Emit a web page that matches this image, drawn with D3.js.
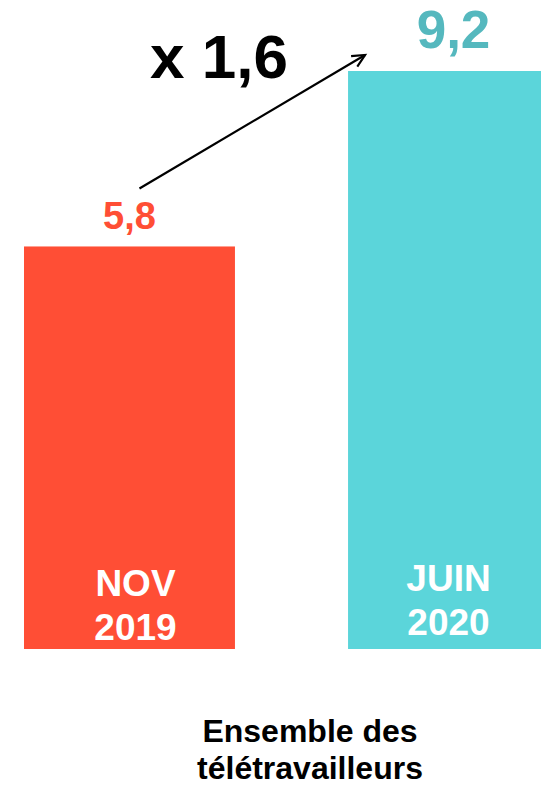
<!DOCTYPE html>
<html>
<head>
<meta charset="utf-8">
<script src="https://cdn.jsdelivr.net/npm/d3@7"></script>
<style>
  html, body { margin: 0; padding: 0; background: #fff; }
  svg { display: block; }
  text { font-family: "Liberation Sans", Arial, sans-serif; font-weight: bold; }
</style>
</head>
<body>
<svg id="chart" width="541" height="786"></svg>
<script>
const categories = ["NOV 2019", "JUIN 2020"];
const categoryLines = [["NOV", "2019"], ["JUIN", "2020"]];
const values = [5.8, 9.2];
const valueLabels = ["5,8", "9,2"];
const barColors = ["#FF4E35", "#5BD5DA"];
const labelColors = ["#FF4E35", "#55B8BE"];
const ratioLabel = "x 1,6";
const groupLabel = ["Ensemble des", "télétravailleurs"];
const yMin = -2;

const svg = d3.select("#chart");

const x = d3.scaleBand()
  .domain(categories)
  .range([24, 559])
  .paddingInner(0.349)
  .paddingOuter(0);

const y = d3.scaleLinear()
  .domain([yMin, d3.max(values)])
  .range([649, 71]);

const data = categories.map((c, i) => ({ c, v: values[i], i }));

// bars
svg.selectAll("rect.bar")
  .data(data)
  .join("rect")
  .attr("class", "bar")
  .attr("x", d => x(d.c))
  .attr("y", d => y(d.v))
  .attr("width", x.bandwidth())
  .attr("height", d => y(yMin) - y(d.v))
  .attr("fill", d => barColors[d.i]);

// value labels
const valueFont = [38, 53];
const valueDx = [0, 0];
svg.selectAll("text.val")
  .data(data)
  .join("text")
  .attr("class", "val")
  .attr("x", d => x(d.c) + x.bandwidth() / 2 + valueDx[d.i])
  .attr("y", d => y(d.v) - (d.i === 0 ? 17 : 23))
  .attr("text-anchor", "middle")
  .attr("font-size", d => valueFont[d.i])
  .attr("fill", d => labelColors[d.i])
  .text(d => valueLabels[d.i]);

// category labels inside bars
const catDx = [6, -5];
const catBase = [596, 591];
data.forEach(d => {
  const t = svg.append("text")
    .attr("text-anchor", "middle")
    .attr("font-size", 37)
    .attr("fill", "#fff");
  categoryLines[d.i].forEach((line, k) => {
    t.append("tspan")
      .attr("x", x(d.c) + x.bandwidth() / 2 + catDx[d.i])
      .attr("y", catBase[d.i] + k * 44)
      .text(line);
  });
});

// arrow annotation
const x0 = x(categories[0]) + x.bandwidth() / 2 + 10;
const y0 = y(values[0]) - 58;
const x1 = x(categories[1]) + 17;
const y1 = y(values[1]) - 16;
svg.append("line")
  .attr("x1", x0).attr("y1", y0)
  .attr("x2", x1).attr("y2", y1)
  .attr("stroke", "#000").attr("stroke-width", 2.2);
const ang = Math.atan2(y1 - y0, x1 - x0);
const hl = 14, ha = 0.45;
svg.append("path")
  .attr("d", `M${x1 - hl * Math.cos(ang - ha)},${y1 - hl * Math.sin(ang - ha)} L${x1},${y1} L${x1 - hl * Math.cos(ang + ha)},${y1 - hl * Math.sin(ang + ha)}`)
  .attr("fill", "none").attr("stroke", "#000").attr("stroke-width", 2.2);

svg.append("text")
  .attr("x", 150)
  .attr("y", 78)
  .attr("font-size", 62)
  .attr("fill", "#000")
  .text(ratioLabel);

// group label
const g = svg.append("text")
  .attr("text-anchor", "middle")
  .attr("font-size", 32)
  .attr("fill", "#000");
groupLabel.forEach((line, k) => {
  g.append("tspan").attr("x", 310).attr("y", 742 + k * 37).text(line);
});
</script>
</body>
</html>
